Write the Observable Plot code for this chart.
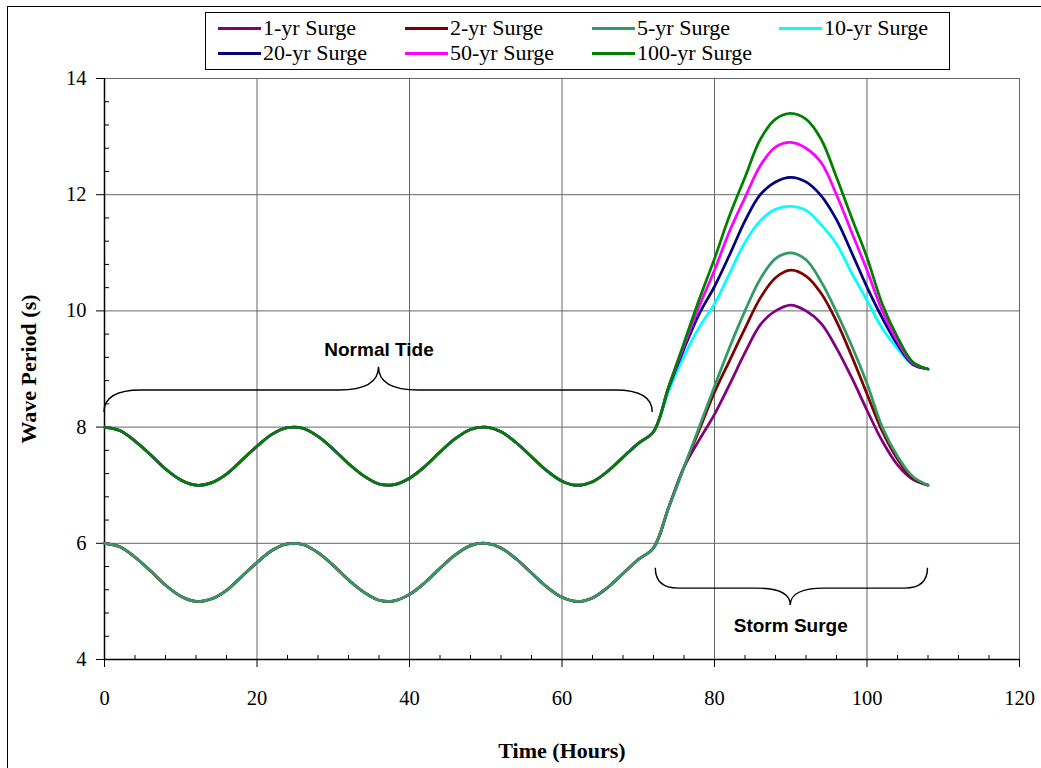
<!DOCTYPE html>
<html><head><meta charset="utf-8">
<script src="https://cdn.jsdelivr.net/npm/d3@7"></script>
<script src="https://cdn.jsdelivr.net/npm/@observablehq/plot@0.6"></script>
<style>
html,body{margin:0;padding:0;background:#fff;}
#wrap{position:relative;width:1041px;height:768px;overflow:hidden;background:#fff;}
#chart{position:absolute;left:0;top:0;}
#border{position:absolute;left:7px;top:6px;width:1200px;height:1000px;border:1px solid #000;box-sizing:border-box;pointer-events:none;}
#legend{position:absolute;left:205px;top:12px;width:745px;height:58px;border:1px solid #000;box-sizing:border-box;background:#fff;font-family:"Liberation Serif","Times New Roman",serif;font-size:22px;color:#000;}
.item{position:absolute;display:flex;align-items:center;height:24px;white-space:nowrap;}
.sw{display:inline-block;width:43px;height:3px;margin-right:2px;}
</style></head>
<body><div id="wrap"><div id="chart"></div><div id="border"></div><div id="legend"></div></div>
<script>
// ---- data ----
const seriesNames = ["1-yr Surge", "2-yr Surge", "5-yr Surge", "10-yr Surge", "20-yr Surge", "50-yr Surge", "100-yr Surge"];
const seriesColors = ["#800080", "#800000", "#339966", "#00FFFF", "#000080", "#FF00FF", "#008000"];

// normal tide period (hours 0..72)
const tideHours = [0,2,4,6,8,10,12,14,16,18,20,22,24,26,28,30,32,34,36,38,40,42,44,46,48,50,52,54,56,58,60,62,64,66,68,70,72];
const tideLow  = [6.00,5.94,5.76,5.53,5.28,5.09,5.00,5.04,5.19,5.43,5.67,5.88,5.99,5.98,5.84,5.62,5.37,5.16,5.02,5.01,5.12,5.32,5.57,5.80,5.96,6.00,5.92,5.73,5.49,5.25,5.07,5.00,5.06,5.24,5.48,5.72,5.92];
const tideHigh = [8.00,7.94,7.76,7.53,7.28,7.09,7.00,7.04,7.19,7.43,7.67,7.88,7.99,7.98,7.84,7.62,7.37,7.16,7.02,7.01,7.12,7.32,7.57,7.80,7.96,8.00,7.92,7.73,7.49,7.25,7.07,7.00,7.06,7.24,7.48,7.72,7.92];

// storm surge period (hours 72..108)
const stormHours = [72,74,76,78,80,82,84,86,88,90,92,94,96,98,100,102,104,106,108];
const surge1   = [5.92,6.62,7.31,7.78,8.22,8.74,9.28,9.76,10.00,10.10,10.00,9.78,9.36,8.85,8.29,7.76,7.35,7.10,7.00];
const surge2   = [5.92,6.62,7.31,7.95,8.60,9.15,9.70,10.22,10.57,10.70,10.60,10.30,9.82,9.22,8.57,7.93,7.45,7.12,7.00];
const surge5   = [5.92,6.62,7.31,8.00,8.70,9.38,10.00,10.55,10.90,11.00,10.88,10.50,9.98,9.40,8.75,8.00,7.50,7.15,7.00];
const surge10  = [7.92,8.62,9.22,9.72,10.12,10.65,11.18,11.55,11.75,11.80,11.73,11.48,11.15,10.65,10.18,9.70,9.35,9.08,9.00];
const surge20  = [7.92,8.68,9.35,9.95,10.42,10.97,11.55,12.00,12.22,12.30,12.22,11.98,11.57,11.00,10.41,9.88,9.42,9.08,9.00];
const surge50  = [7.92,8.70,9.40,10.08,10.70,11.38,11.95,12.50,12.82,12.90,12.80,12.55,12.00,11.35,10.70,10.00,9.48,9.10,9.00];
const surge100 = [7.92,8.70,9.45,10.20,10.90,11.65,12.30,12.95,13.30,13.40,13.30,12.95,12.30,11.60,10.92,10.12,9.55,9.12,9.00];

const xMajor = [0,20,40,60,80,100,120];
const xMinor = [4,8,12,16,24,28,32,36,44,48,52,56,64,68,72,76,84,88,92,96,104,108,112,116];
const yMajor = [4,6,8,10,12,14];
const yMinor = [4.4,4.8,5.2,5.6,6.4,6.8,7.2,7.6,8.4,8.8,9.2,9.6,10.4,10.8,11.2,11.6,12.4,12.8,13.2,13.6];

const annotLabels = ["Normal Tide", "Storm Surge"];
const annotX = [36, 90];
const annotY = [9.33, 4.585];
// braces: x start, middle, end ; y at ends, line, tip
const braceX1 = [0, 72.3], braceXm = [36, 90], braceX2 = [71.9, 108];
const braceYEnd = [8.25, 5.57], braceYLine = [8.63, 5.22], braceYTip = [9.03, 4.93];

// ---- build ----
const tideFor = [tideLow, tideLow, tideLow, tideHigh, tideHigh, tideHigh, tideHigh];
const surgeFor = [surge1, surge2, surge5, surge10, surge20, surge50, surge100];
const rows = [];
seriesNames.forEach((name, i) => {
  tideHours.slice(0, -1).forEach((t, j) => rows.push({series: name, t, v: tideFor[i][j]}));
  stormHours.forEach((t, j) => rows.push({series: name, t, v: surgeFor[i][j]}));
});

const W = 1041, H = 768, mL = 104, mR = 22, mT = 78, mB = 109;
const plotW = W - mL - mR, plotH = H - mT - mB;
const serif = '"Liberation Serif", "Times New Roman", serif';
const sans = '"Liberation Sans", Arial, sans-serif';

const chart = Plot.plot({
  width: W, height: H,
  marginLeft: mL, marginRight: mR, marginTop: mT, marginBottom: mB,
  style: {fontFamily: serif, fontSize: "20.5px", color: "#000", background: "transparent"},
  x: {domain: [0, 120]},
  y: {domain: [4, 14]},
  color: {domain: seriesNames, range: seriesColors},
  marks: [
    Plot.ruleY(yMajor, {stroke: "#666", strokeWidth: 1}),
    Plot.ruleX(xMajor, {stroke: "#666", strokeWidth: 1}),
    Plot.tickX(xMinor, {x: d => d, stroke: "#000", strokeWidth: 1, insetTop: plotH - 4}),
    Plot.tickY(yMinor, {y: d => d, stroke: "#000", strokeWidth: 1, insetRight: plotW - 5}),
    Plot.ruleX([0], {stroke: "#000", strokeWidth: 1.5}),
    Plot.ruleY([4], {stroke: "#000", strokeWidth: 1.5}),
    Plot.axisX({ticks: xMajor, tickSize: 8, tickPadding: 23, tickFormat: d => String(d), label: null, fontSize: 20.5, fontFamily: serif}),
    Plot.axisY({ticks: yMajor, tickSize: 8, tickPadding: 10, tickFormat: d => String(d), label: null, fontSize: 20.5, fontFamily: serif}),
    Plot.line(rows, {x: "t", y: "v", z: "series", stroke: "series", strokeWidth: 2.75, curve: "catmull-rom"}),
    Plot.text(["Time (Hours)"], {text: d => d, frameAnchor: "bottom", dy: 91, fontFamily: serif, fontWeight: "bold", fontSize: 22, lineAnchor: "middle", textAnchor: "middle"}),
    Plot.text(["Wave Period (s)"], {text: d => d, frameAnchor: "left", dx: -76, rotate: -90, fontFamily: serif, fontWeight: "bold", fontSize: 22, lineAnchor: "middle", textAnchor: "middle"}),
    Plot.text(annotLabels, {x: (d, i) => annotX[i], y: (d, i) => annotY[i], text: d => d, fontFamily: sans, fontWeight: "bold", fontSize: 19, lineAnchor: "middle"})
  ]
});
document.getElementById("chart").appendChild(chart);

// braces drawn through the plot's scales
const sx = chart.scale("x"), sy = chart.scale("y");
const braceEndW = [37, 23], braceMidW = [40, 34];
const svg = d3.select(chart);
braceX1.forEach((_, i) => {
  const x1 = sx.apply(braceX1[i]), xm = sx.apply(braceXm[i]), x2 = sx.apply(braceX2[i]);
  const y0 = sy.apply(braceYEnd[i]), yl = sy.apply(braceYLine[i]), yt = sy.apply(braceYTip[i]);
  const we = braceEndW[i], wm = braceMidW[i];
  const d = `M${x1},${y0} Q${x1},${yl} ${x1 + we},${yl} L${xm - wm},${yl} Q${xm},${yl} ${xm},${yt} Q${xm},${yl} ${xm + wm},${yl} L${x2 - we},${yl} Q${x2},${yl} ${x2},${y0}`;
  svg.append("path").attr("d", d).attr("fill", "none").attr("stroke", "#000").attr("stroke-width", 1.4);
});

// legend
const legend = document.getElementById("legend");
seriesNames.forEach((name, i) => {
  const col = i % 4, row = Math.floor(i / 4);
  const item = document.createElement("div");
  item.className = "item";
  item.style.left = (12 + col * 187) + "px";
  item.style.top = (3 + row * 25) + "px";
  const sw = document.createElement("span");
  sw.className = "sw";
  sw.style.background = seriesColors[i];
  const tx = document.createElement("span");
  tx.textContent = name;
  item.appendChild(sw); item.appendChild(tx);
  legend.appendChild(item);
});
</script>
</body></html>
